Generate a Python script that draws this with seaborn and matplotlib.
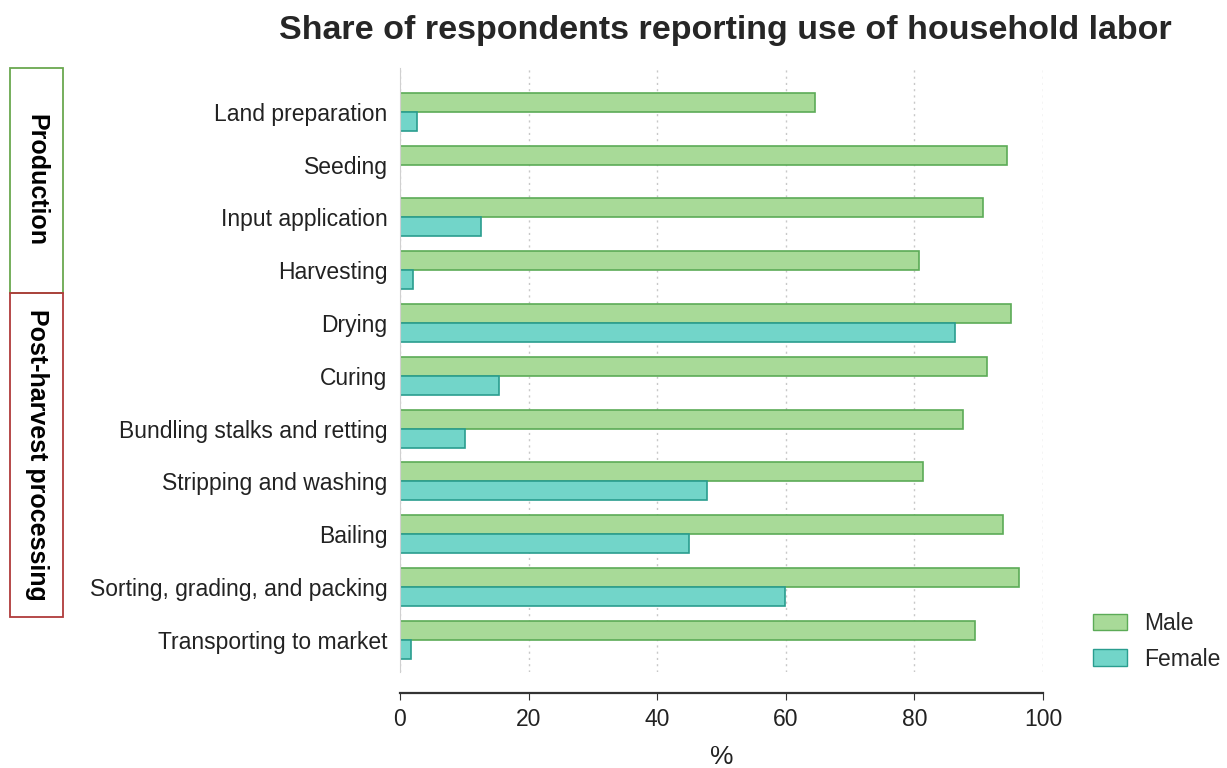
import pandas as pd
import seaborn as sns
import matplotlib.pyplot as plt
from matplotlib.patches import Rectangle

# data
activities = ['Land preparation', 'Seeding', 'Input application', 'Harvesting',
              'Drying', 'Curing', 'Bundling stalks and retting',
              'Stripping and washing', 'Bailing',
              'Sorting, grading, and packing', 'Transporting to market']
male = [64.5, 94.4, 90.7, 80.7, 95.0, 91.3, 87.6, 81.3, 93.8, 96.3, 89.4]
female = [2.6, 0.0, 12.6, 2.0, 86.3, 15.4, 10.1, 47.7, 44.9, 59.9, 1.7]
groups = ['Production', 'Post-harvest processing']

df = pd.DataFrame({'activity': activities * 2,
                   'pct': male + female,
                   'sex': ['Male'] * len(male) + ['Female'] * len(female)})

sns.set_style('white')
plt.rcParams['font.family'] = ['Liberation Sans', 'DejaVu Sans']

fills = {'Male': '#a8da98', 'Female': '#72d5c9'}
edges = {'Male': '#5cab57', 'Female': '#2a9d8f'}

fig = plt.figure(figsize=(12.27, 7.68), dpi=100)
ax = fig.add_axes([400 / 1227, 96 / 768, 643 / 1227, 604 / 768])

sns.barplot(data=df, y='activity', x='pct', hue='sex', orient='h',
            palette=fills, width=0.72, saturation=1, ax=ax, legend=False)
for cont, s in zip(ax.containers, ['Male', 'Female']):
    for b in cont:
        b.set_edgecolor(edges[s])
        b.set_linewidth(1.2)

ax.set_xlim(0, 100)
ax.set_ylim(10.61, -0.83)
ax.set_xticks(range(0, 101, 20))
ax.grid(axis='x', linestyle=(0, (1.5, 3)), color='#c8c8c8', linewidth=1)
ax.grid(axis='y', visible=False)

for sp in ['top', 'right']:
    ax.spines[sp].set_visible(False)
ax.spines['left'].set_color('#d0d0d0')
ax.spines['bottom'].set_position(('outward', 15))
ax.spines['bottom'].set_bounds(0, 100)
ax.spines['bottom'].set_color('#333333')
ax.spines['bottom'].set_linewidth(1.6)
ax.tick_params(axis='x', bottom=True, length=5, color='#333333',
               labelsize=16.5, pad=6, labelcolor='#222222')
ax.tick_params(axis='y', left=False, labelsize=16.5, pad=5.5, labelcolor='#222222')
ax.set_xlabel('%', fontsize=19, color='#222222', labelpad=10)
ax.set_ylabel('')

fig.text(725 / 1227, 1 - 31 / 768,
         'Share of respondents reporting use of household labor',
         ha='center', va='center', fontsize=24.5, fontweight='bold')

# group boxes on the left
boxes = [(68, 293, '#6aa84f'), (293, 617, '#b03a3a')]
for (top, bot, col), name in zip(boxes, groups):
    fig.patches.append(Rectangle((10 / 1227, 1 - bot / 768), 53 / 1227,
                                 (bot - top) / 768, transform=fig.transFigure,
                                 fill=False, edgecolor=col, linewidth=1.3))
    fig.text(36.5 / 1227, 1 - (top + bot) / 2 / 768, name, rotation=270,
             ha='center', va='center', fontsize=18, fontweight='bold',
             color='black')

handles = [Rectangle((0, 0), 1, 1, facecolor=fills[s], edgecolor=edges[s])
           for s in ['Male', 'Female']]
fig.legend(handles, ['Male', 'Female'], loc='upper left',
           bbox_to_anchor=(1093 / 1227, 1 - 612 / 768), frameon=False,
           borderpad=0, borderaxespad=0,
           fontsize=16.5, handlelength=1.5, handleheight=0.75,
           labelspacing=0.55, handletextpad=0.75)

fig.savefig('out.png', dpi=100)
